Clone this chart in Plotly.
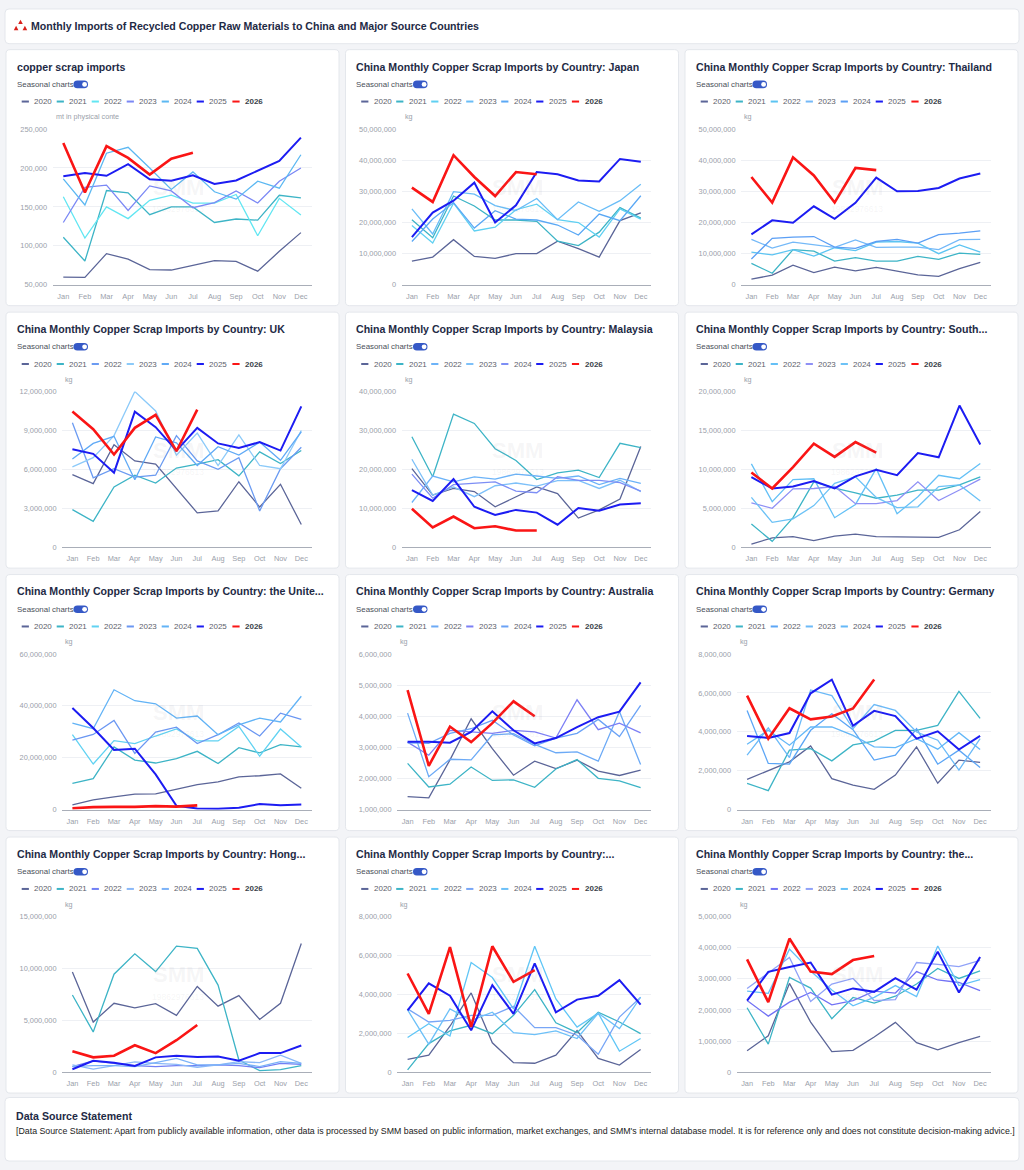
import plotly.graph_objects as go

W, H = 1024, 1170
FONT = "Liberation Sans, Arial, sans-serif"

MONTHS = ["Jan", "Feb", "Mar", "Apr", "May", "Jun", "Jul", "Aug", "Sep", "Oct", "Nov", "Dec"]
YEARS = ["2020", "2021", "2022", "2023", "2024", "2025", "2026"]

HEADER_TITLE = "Monthly Imports of Recycled Copper Raw Materials to China and Major Source Countries"
PANEL_TITLES = [
    "copper scrap imports",
    "China Monthly Copper Scrap Imports by Country: Japan",
    "China Monthly Copper Scrap Imports by Country: Thailand",
    "China Monthly Copper Scrap Imports by Country: UK",
    "China Monthly Copper Scrap Imports by Country: Malaysia",
    "China Monthly Copper Scrap Imports by Country: South...",
    "China Monthly Copper Scrap Imports by Country: the Unite...",
    "China Monthly Copper Scrap Imports by Country: Australia",
    "China Monthly Copper Scrap Imports by Country: Germany",
    "China Monthly Copper Scrap Imports by Country: Hong...",
    "China Monthly Copper Scrap Imports by Country:...",
    "China Monthly Copper Scrap Imports by Country: the...",
]
UNITS = ["mt in physical conte"] + ["kg"] * 11
TOGGLE_LABEL = "Seasonal charts"
SOURCE_TITLE = "Data Source Statement"
SOURCE_TEXT = ("[Data Source Statement: Apart from publicly available information, other data is processed by SMM "
               "based on public information, market exchanges, and SMM's internal database model. It is for "
               "reference only and does not constitute decision-making advice.]")
WATERMARK = "SMM"
WATERMARK_ID = "19862976613"

# ---------------- data (rows: 2020 .. 2026) ----------------
total = [
    [60000, 59500, 90000, 83000, 69500, 69000, 75000, 81000, 80000, 67500, 93000, 117000],
    [111000, 80500, 171000, 168000, 140000, 150000, 150000, 130000, 134500, 133000, 165000, 161500],
    [163000, 110000, 150000, 135000, 158500, 165000, 155000, 155000, 166000, 113000, 161000, 139500],
    [130000, 175000, 178000, 145500, 177000, 170500, 149000, 155500, 170500, 155000, 183000, 200000],
    [186000, 152500, 219000, 226500, 200000, 172500, 195000, 169500, 160000, 183000, 174000, 217000],
    [189500, 193500, 190000, 205000, 185500, 183500, 190500, 179500, 184000, 197000, 209000, 239000],
    [232000, 168500, 228000, 213000, 191500, 212000, 219500],
]
japan = [
    [7.6e6, 8.9e6, 14.5e6, 9.1e6, 8.5e6, 10.0e6, 10.0e6, 14.0e6, 11.6e6, 8.9e6, 20.6e6, 23.1e6],
    [20.9e6, 15.1e6, 28.5e6, 25.3e6, 20.8e6, 20.8e6, 20.4e6, 14.0e6, 12.6e6, 16.9e6, 24.8e6, 21.4e6],
    [19.0e6, 13.4e6, 26.2e6, 17.3e6, 18.5e6, 24.1e6, 25.9e6, 20.9e6, 20.0e6, 15.3e6, 24.4e6, 21.1e6],
    [24.4e6, 16.3e6, 29.9e6, 29.1e6, 25.4e6, 23.8e6, 27.7e6, 20.9e6, 26.6e6, 23.6e6, 27.0e6, 32.3e6],
    [13.9e6, 21.1e6, 26.4e6, 18.2e6, 23.8e6, 21.1e6, 20.8e6, 19.2e6, 16.0e6, 22.7e6, 20.6e6, 28.6e6],
    [15.3e6, 23.2e6, 27.0e6, 32.8e6, 20.0e6, 25.5e6, 36.2e6, 35.5e6, 33.5e6, 33.2e6, 40.4e6, 39.5e6],
    [31.2e6, 26.6e6, 41.6e6, 34.6e6, 28.5e6, 36.2e6, 35.5e6],
]
thailand = [
    [1.8e6, 3.1e6, 6.3e6, 3.9e6, 5.7e6, 4.5e6, 5.6e6, 4.5e6, 3.2e6, 2.7e6, 5.2e6, 7.2e6],
    [6.9e6, 3.7e6, 11.3e6, 10.8e6, 7.6e6, 8.7e6, 7.6e6, 7.6e6, 9.1e6, 8.2e6, 10.2e6, 9.8e6],
    [10.5e6, 9.6e6, 11.3e6, 9.2e6, 11.9e6, 11.0e6, 13.7e6, 13.9e6, 13.4e6, 10.0e6, 12.8e6, 10.5e6],
    [14.6e6, 11.8e6, 13.7e6, 12.8e6, 12.0e6, 14.4e6, 12.0e6, 12.1e6, 12.1e6, 11.3e6, 14.5e6, 14.6e6],
    [8.3e6, 14.9e6, 15.3e6, 15.5e6, 12.1e6, 11.7e6, 13.9e6, 14.6e6, 13.4e6, 16.1e6, 16.6e6, 17.3e6],
    [16.2e6, 20.7e6, 19.9e6, 25.2e6, 21.2e6, 26.3e6, 34.4e6, 30.0e6, 30.1e6, 31.1e6, 34.1e6, 35.7e6],
    [34.6e6, 26.4e6, 40.9e6, 35.1e6, 26.4e6, 37.5e6, 36.8e6],
]
uk = [
    [5.6e6, 4.9e6, 7.9e6, 6.65e6, 6.4e6, 4.5e6, 2.65e6, 2.8e6, 5.05e6, 3.1e6, 4.85e6, 1.75e6],
    [2.9e6, 2.0e6, 4.65e6, 5.55e6, 4.95e6, 6.1e6, 6.4e6, 6.75e6, 5.5e6, 7.35e6, 6.45e6, 7.45e6],
    [9.6e6, 5.35e6, 6.05e6, 5.4e6, 5.55e6, 8.6e6, 6.65e6, 6.0e6, 6.9e6, 2.8e6, 6.05e6, 7.7e6],
    [6.2e6, 6.9e6, 8.6e6, 12.0e6, 10.5e6, 7.1e6, 8.8e6, 6.3e6, 8.65e6, 6.3e6, 6.05e6, 9.0e6],
    [6.8e6, 8.0e6, 8.55e6, 5.2e6, 8.5e6, 8.05e6, 6.3e6, 7.75e6, 7.1e6, 8.1e6, 6.7e6, 8.9e6],
    [7.55e6, 7.2e6, 5.75e6, 10.45e6, 9.25e6, 7.45e6, 9.2e6, 8.0e6, 7.65e6, 8.1e6, 7.45e6, 10.85e6],
    [10.45e6, 9.1e6, 7.15e6, 9.2e6, 10.2e6, 7.4e6, 10.6e6],
]
malaysia = [
    [20.2e6, 13.4e6, 15.1e6, 14.3e6, 10.4e6, 13.0e6, 15.5e6, 13.8e6, 7.5e6, 9.6e6, 12.4e6, 25.9e6],
    [28.4e6, 18.1e6, 34.2e6, 31.8e6, 25.3e6, 22.3e6, 17.4e6, 19.1e6, 19.8e6, 17.9e6, 26.7e6, 25.6e6],
    [11.5e6, 18.3e6, 16.8e6, 18.1e6, 17.5e6, 18.8e6, 18.3e6, 17.7e6, 18.3e6, 16.1e6, 17.7e6, 16.4e6],
    [22.6e6, 13.4e6, 15.5e6, 13.0e6, 15.8e6, 16.5e6, 15.7e6, 17.1e6, 17.2e6, 15.1e6, 17.2e6, 14.3e6],
    [18.8e6, 12.6e6, 16.1e6, 16.4e6, 16.8e6, 14.4e6, 14.0e6, 18.1e6, 17.2e6, 17.2e6, 16.6e6, 14.4e6],
    [14.7e6, 11.9e6, 17.5e6, 10.4e6, 8.3e6, 9.6e6, 8.9e6, 5.8e6, 10.1e6, 9.4e6, 11.0e6, 11.3e6],
    [9.9e6, 5.1e6, 7.9e6, 4.9e6, 5.4e6, 4.3e6, 4.3e6],
]
south = [
    [0.42e6, 1.2e6, 1.36e6, 0.85e6, 1.44e6, 1.7e6, 1.36e6, 1.36e6, 1.36e6, 1.27e6, 2.25e6, 4.6e6],
    [3.0e6, 0.76e6, 3.8e6, 8.4e6, 7.6e6, 7.0e6, 6.3e6, 6.7e6, 7.35e6, 7.35e6, 8.0e6, 9.05e6],
    [10.7e6, 5.86e6, 8.7e6, 8.8e6, 3.8e6, 5.5e6, 10.1e6, 4.3e6, 6.5e6, 9.25e6, 8.8e6, 10.75e6],
    [5.7e6, 5.0e6, 7.5e6, 7.55e6, 7.8e6, 5.6e6, 5.6e6, 6.0e6, 8.4e6, 6.0e6, 7.35e6, 8.75e6],
    [6.4e6, 3.2e6, 3.65e6, 5.35e6, 8.2e6, 9.05e6, 6.4e6, 5.1e6, 5.2e6, 7.8e6, 8.0e6, 5.95e6],
    [9.0e6, 7.55e6, 7.8e6, 8.5e6, 7.55e6, 9.1e6, 9.95e6, 9.25e6, 12.1e6, 11.55e6, 18.2e6, 13.2e6],
    [9.6e6, 7.55e6, 10.3e6, 13.3e6, 11.6e6, 13.5e6, 12.15e6],
]
usa = [
    [1.9e6, 3.8e6, 5.0e6, 6.0e6, 6.1e6, 8.0e6, 9.7e6, 10.7e6, 12.7e6, 13.1e6, 13.8e6, 8.3e6],
    [10.2e6, 12.0e6, 24.2e6, 19.1e6, 18.0e6, 19.7e6, 22.5e6, 17.8e6, 23.9e6, 21.9e6, 25.1e6, 24.2e6],
    [28.9e6, 17.6e6, 26.6e6, 25.5e6, 28.4e6, 31.1e6, 26.5e6, 26.5e6, 32.1e6, 20.6e6, 31.1e6, 24.2e6],
    [26.8e6, 29.0e6, 34.4e6, 21.7e6, 29.9e6, 31.8e6, 25.5e6, 28.9e6, 33.4e6, 28.4e6, 37.2e6, 34.8e6],
    [33.4e6, 31.2e6, 46.2e6, 42.0e6, 40.8e6, 35.3e6, 36.1e6, 28.9e6, 32.7e6, 35.3e6, 33.8e6, 43.7e6],
    [39.2e6, 31.5e6, 23.0e6, 23.5e6, 13.6e6, 1.5e6, 0.5e6, 0.4e6, 0.8e6, 2.2e6, 1.7e6, 2.0e6],
    [0.6e6, 1.0e6, 1.1e6, 1.1e6, 1.4e6, 1.2e6, 1.7e6],
]
australia = [
    [1.42e6, 1.38e6, 2.6e6, 3.92e6, 2.96e6, 2.11e6, 2.56e6, 2.32e6, 2.59e6, 2.24e6, 2.1e6, 2.27e6],
    [2.49e6, 1.73e6, 1.82e6, 2.37e6, 1.94e6, 1.96e6, 1.72e6, 2.31e6, 2.61e6, 2.01e6, 1.93e6, 1.71e6],
    [4.1e6, 2.06e6, 2.62e6, 2.6e6, 3.4e6, 3.44e6, 3.1e6, 2.83e6, 2.86e6, 2.56e6, 4.15e6, 2.45e6],
    [3.17e6, 2.75e6, 3.55e6, 3.5e6, 3.45e6, 3.55e6, 3.5e6, 3.3e6, 4.53e6, 3.57e6, 3.78e6, 3.47e6],
    [3.15e6, 3.13e6, 3.45e6, 3.6e6, 3.87e6, 3.4e6, 3.05e6, 3.3e6, 3.45e6, 3.9e6, 3.35e6, 4.35e6],
    [3.18e6, 3.18e6, 3.15e6, 3.5e6, 4.16e6, 3.55e6, 3.13e6, 3.3e6, 3.65e6, 3.97e6, 4.15e6, 5.09e6],
    [4.84e6, 2.41e6, 3.67e6, 3.17e6, 3.78e6, 4.48e6, 4.0e6],
]
germany = [
    [1.56e6, 2.0e6, 2.46e6, 3.28e6, 1.6e6, 1.27e6, 1.05e6, 1.78e6, 3.23e6, 1.36e6, 2.55e6, 2.43e6],
    [1.36e6, 0.98e6, 3.06e6, 3.14e6, 2.51e6, 3.33e6, 3.52e6, 4.08e6, 4.08e6, 4.33e6, 6.08e6, 4.69e6],
    [5.1e6, 2.38e6, 2.34e6, 4.08e6, 4.93e6, 4.11e6, 2.55e6, 2.8e6, 4.16e6, 2.34e6, 3.06e6, 2.17e6],
    [2.8e6, 4.21e6, 2.68e6, 6.15e6, 5.86e6, 4.16e6, 5.4e6, 5.1e6, 3.99e6, 3.57e6, 2.04e6, 3.65e6],
    [3.36e6, 4.08e6, 3.31e6, 4.25e6, 4.25e6, 3.82e6, 3.23e6, 3.19e6, 3.65e6, 3.11e6, 3.96e6, 3.09e6],
    [3.79e6, 3.69e6, 3.94e6, 5.98e6, 6.68e6, 4.31e6, 5.08e6, 4.81e6, 3.65e6, 4.03e6, 3.09e6, 3.79e6],
    [5.86e6, 3.65e6, 5.21e6, 4.64e6, 4.79e6, 5.2e6, 6.69e6],
]
hongkong = [
    [9.66e6, 4.83e6, 6.64e6, 6.2e6, 6.61e6, 5.47e6, 8.26e6, 6.36e6, 7.37e6, 5.08e6, 6.64e6, 12.4e6],
    [7.44e6, 3.88e6, 9.44e6, 11.4e6, 9.69e6, 12.14e6, 11.92e6, 8.39e6, 1.18e6, 0.16e6, 0.25e6, 0.64e6],
    [0.54e6, 1.1e6, 0.86e6, 0.64e6, 0.54e6, 0.64e6, 0.64e6, 0.7e6, 0.64e6, 0.44e6, 0.86e6, 0.76e6],
    [0.7e6, 0.29e6, 0.64e6, 0.99e6, 0.86e6, 0.76e6, 0.48e6, 0.7e6, 1.02e6, 0.92e6, 1.65e6, 0.86e6],
    [0.54e6, 0.64e6, 0.64e6, 0.54e6, 0.92e6, 1.33e6, 0.7e6, 0.7e6, 0.86e6, 0.54e6, 1.02e6, 0.86e6],
    [0.29e6, 1.1e6, 0.92e6, 0.6e6, 1.43e6, 1.59e6, 1.46e6, 1.52e6, 1.1e6, 1.84e6, 1.84e6, 2.57e6],
    [2.03e6, 1.43e6, 1.59e6, 2.6e6, 1.84e6, 3.08e6, 4.54e6],
]
country11 = [
    [0.66e6, 0.88e6, 2.36e6, 4.07e6, 1.51e6, 0.49e6, 0.46e6, 0.88e6, 2.14e6, 0.71e6, 0.37e6, 1.17e6],
    [0.12e6, 1.47e6, 2.12e6, 2.41e6, 1.98e6, 2.92e6, 4.24e6, 2.54e6, 2.03e6, 3.08e6, 2.58e6, 1.98e6],
    [1.78e6, 2.49e6, 1.86e6, 5.63e6, 4.86e6, 3.25e6, 6.47e6, 3.76e6, 2.32e6, 3.03e6, 1.08e6, 1.73e6],
    [3.25e6, 2.58e6, 2.66e6, 2.92e6, 2.92e6, 3.39e6, 2.29e6, 2.29e6, 1.9e6, 0.92e6, 2.83e6, 3.85e6],
    [3.2e6, 1.44e6, 3.25e6, 2.66e6, 3.08e6, 2.03e6, 1.93e6, 2.12e6, 1.73e6, 3.03e6, 2.24e6, 3.85e6],
    [3.17e6, 4.56e6, 3.93e6, 2.15e6, 4.47e6, 3.0e6, 5.59e6, 3.08e6, 3.73e6, 3.93e6, 4.73e6, 3.47e6],
    [5.07e6, 3.0e6, 6.42e6, 2.32e6, 6.47e6, 4.64e6, 5.24e6],
]
country12 = [
    [0.69e6, 1.17e6, 2.85e6, 1.61e6, 0.66e6, 0.7e6, 1.13e6, 1.6e6, 0.95e6, 0.72e6, 0.95e6, 1.15e6],
    [2.07e6, 0.9e6, 3.04e6, 2.7e6, 1.72e6, 2.4e6, 2.22e6, 2.44e6, 2.83e6, 3.33e6, 3.01e6, 3.25e6],
    [2.3e6, 1.8e6, 2.25e6, 2.56e6, 2.16e6, 2.3e6, 2.6e6, 2.54e6, 3.23e6, 2.96e6, 2.88e6, 2.62e6],
    [2.69e6, 3.2e6, 3.68e6, 2.27e6, 2.83e6, 3.01e6, 2.3e6, 2.33e6, 3.52e6, 3.46e6, 3.39e6, 3.59e6],
    [2.6e6, 2.53e6, 3.95e6, 3.25e6, 2.64e6, 2.13e6, 2.4e6, 2.78e6, 2.43e6, 4.05e6, 2.78e6, 2.97e6],
    [2.3e6, 3.22e6, 3.38e6, 3.52e6, 2.49e6, 2.69e6, 2.58e6, 3.02e6, 2.65e6, 3.87e6, 2.56e6, 3.7e6],
    [3.62e6, 2.25e6, 4.29e6, 3.23e6, 3.15e6, 3.6e6, 3.73e6],
]
PANEL_DATA = [total, japan, thailand, uk, malaysia, south, usa, australia, germany, hongkong, country11, country12]

# axis ranges (min, max, step)
Y_AXES = [(50000, 250000, 50000), (0, 5e7, 1e7), (0, 5e7, 1e7), (0, 1.2e7, 3e6),
          (0, 4e7, 1e7), (0, 2e7, 5e6), (0, 6e7, 2e7), (1e6, 6e6, 1e6),
          (0, 8e6, 2e6), (0, 1.5e7, 5e6), (0, 8e6, 2e6), (0, 5e6, 1e6)]

# ---------------- styling ----------------
C2020, C2021, C2025, C2026 = "#5b6598", "#3db4c6", "#1c1cf2", "#fa1515"
MID_COLORS = [
    ("#62e6f2", "#7b88f5", "#5cb8f2"), ("#5fd0f2", "#69bdf7", "#5aa8f5"), ("#5cc4f2", "#74b9f8", "#5b9ff5"),
    ("#6b9bf2", "#8ccaf9", "#60aaf6"), ("#6cb3f8", "#7dc0f9", "#7d8ef5"), ("#64c0f6", "#8f90f5", "#6cc2f6"),
    ("#60d2f2", "#6b97f2", "#62b3f6"), ("#6caaf6", "#7c7ff5", "#6aa2f6"), ("#5ca6f6", "#6cbaf8", "#64b8f8"),
    ("#717ff5", "#8ab8f8", "#7bb2f8"), ("#60c6f6", "#78a6f6", "#6cc0f8"), ("#7272f5", "#90a2f8", "#64c2f8"),
]
WIDTHS = [1.3, 1.3, 1.3, 1.3, 1.3, 2.0, 2.6]
CARD_LEFT = [6, 345.5, 685]
CARD_TOP = [46, 310.5, 575, 839.5]
CARD_W, CARD_H = 333, 258
PLOT_L = [46.5, 56, 56, 56, 56, 56, 56, 51.5, 51.5, 56, 51.5, 51.5]
PLOT_R, PLOT_T, PLOT_B = 305.7, 80, 237
LEG_TEXT_X = [27.3, 62.3, 97.3, 132.3, 167.3, 202.3, 238.0]
TITLE_C = "#1e2a45"
TICK_C = "#9aa0aa"
S_TITLE, S_TOGGLE, S_LEG, S_TICK, S_UNIT, S_SRC = 10.6, 7.9, 8.0, 7.4, 7.2, 8.8


def fx(x):
    return x / W


def fy(y):
    return 1 - y / H


def rrect(x0, y0, x1, y1, r, fill, line="rgba(0,0,0,0)", lw=0):
    def P(x, y):
        return f"{fx(x):.6f},{fy(y):.6f}"
    path = (f"M{P(x0 + r, y0)} L{P(x1 - r, y0)} Q{P(x1, y0)} {P(x1, y0 + r)} "
            f"L{P(x1, y1 - r)} Q{P(x1, y1)} {P(x1 - r, y1)} L{P(x0 + r, y1)} "
            f"Q{P(x0, y1)} {P(x0, y1 - r)} L{P(x0, y0 + r)} Q{P(x0, y0)} {P(x0 + r, y0)} Z")
    return dict(type="path", path=path, xref="paper", yref="paper", fillcolor=fill,
                line=dict(color=line, width=lw), layer="below")


def text(x, y, s, size, color, anchor="left", family=FONT):
    return dict(x=fx(x), y=fy(y), xref="paper", yref="paper", text=s, showarrow=False,
                xanchor=anchor, yanchor="middle", font=dict(size=size, color=color, family=family))


fig = go.Figure()
shapes, annotations = [], []
layout_axes = {}

# header card
shapes.append(rrect(5, 5, 1019, 40, 4, "white", "#e4e7ec", 1))
for (a, b, c, d) in [(18.2, 15.8, 22.8, 20.2), (13.8, 22.0, 18.4, 26.4), (22.6, 22.0, 27.2, 26.4)]:
    shapes.append(dict(type="path", xref="paper", yref="paper", fillcolor="#d9201b", line=dict(width=0),
                       path=f"M{fx((a + c) / 2)},{fy(b)} L{fx(c)},{fy(d)} L{fx(a)},{fy(d)} Z"))
annotations.append(text(29, 22.5, f"<b>{HEADER_TITLE}</b>", S_TITLE, TITLE_C))

# bottom card
shapes.append(rrect(5, 1102, 1019, 1166, 4, "white", "#e4e7ec", 1))
annotations.append(text(14, 1121, f"<b>{SOURCE_TITLE}</b>", S_TITLE, TITLE_C))
annotations.append(text(14, 1135.5, SOURCE_TEXT, S_SRC, "#222222"))

for i, series in enumerate(PANEL_DATA):
    r, c = divmod(i, 3)
    cx, cy = CARD_LEFT[c], CARD_TOP[r]
    shapes.append(rrect(cx, cy, cx + CARD_W, cy + CARD_H, 4, "white", "#e4e7ec", 1))

    n = "" if i == 0 else str(i + 1)
    x0, x1 = cx + PLOT_L[i], cx + PLOT_R
    y0, y1 = cy + PLOT_T, cy + PLOT_B
    lo, hi, step = Y_AXES[i]
    layout_axes["xaxis" + n] = dict(
        domain=[fx(x0), fx(x1)], anchor="y" + n, type="category", range=[-0.5, 11.5],
        categoryorder="array", categoryarray=MONTHS, showgrid=False, zeroline=False,
        showline=True, linecolor="#a9aeb8", linewidth=1, ticks="outside", ticklen=4,
        tickcolor="rgba(0,0,0,0)", tickfont=dict(size=S_TICK, color=TICK_C, family=FONT), fixedrange=True)
    layout_axes["yaxis" + n] = dict(
        domain=[fy(y1), fy(y0)], anchor="x" + n, range=[lo, hi], tick0=lo, dtick=step,
        tickformat=",.0f", showgrid=True, gridcolor="#eef0f4", gridwidth=1, zeroline=False,
        showline=False, ticks="outside", ticklen=3, tickcolor="rgba(0,0,0,0)",
        tickfont=dict(size=S_TICK, color=TICK_C, family=FONT), fixedrange=True)

    colors = [C2020, C2021, *MID_COLORS[i], C2025, C2026]
    for k, vals in enumerate(series):
        fig.add_trace(go.Scatter(
            x=MONTHS[:len(vals)], y=vals, mode="lines", name=YEARS[k], showlegend=False,
            line=dict(color=colors[k], width=WIDTHS[k]), xaxis="x" + n, yaxis="y" + n,
            hoverinfo="skip"))

    # panel texts
    annotations.append(text(cx + 8.5, cy + 17, f"<b>{PANEL_TITLES[i]}</b>", S_TITLE, TITLE_C))
    annotations.append(text(cx + 8.5, cy + 35, TOGGLE_LABEL, S_TOGGLE, "#4a4f5a"))
    shapes.append(rrect(cx + 67.5, cy + 31.2, cx + 82, cy + 38.8, 3.8, "#3558c6"))
    shapes.append(dict(type="circle", xref="paper", yref="paper", fillcolor="white", line=dict(width=0),
                       x0=fx(cx + 76.2), x1=fx(cx + 81.0), y0=fy(cy + 37.4), y1=fy(cy + 32.6)))
    for k, yr in enumerate(YEARS):
        tx = cx + LEG_TEXT_X[k]
        ly = cy + 52.3
        shapes.append(dict(type="line", xref="paper", yref="paper", x0=fx(tx - 11.6), x1=fx(tx - 4.4),
                           y0=fy(ly), y1=fy(ly), line=dict(color=colors[k], width=2)))
        label = f"<b>{yr}</b>" if yr == "2026" else yr
        annotations.append(text(tx - 1, ly, label, S_LEG, "#3a3f4a" if yr == "2026" else "#5c616b"))
    annotations.append(text(x0 + 1, cy + 67.7, UNITS[i], S_UNIT, "#9aa0aa"))
    # faint watermark
    annotations.append(text(cx + 172, cy + 139, f"<b>{WATERMARK}</b>", 22, "rgba(160,160,170,0.11)", "center"))
    annotations.append(text(cx + 172, cy + 161, WATERMARK_ID, 8.5, "rgba(160,160,170,0.11)", "center"))

fig.update_layout(
    width=W, height=H, margin=dict(l=0, r=0, t=0, b=0),
    paper_bgcolor="#f3f4f7", plot_bgcolor="rgba(0,0,0,0)",
    font=dict(family=FONT), showlegend=False, hovermode=False,
    shapes=shapes, annotations=annotations, **layout_axes)

fig.write_html("out.html", config={"displayModeBar": False, "staticPlot": True},
               post_script="document.body.style.margin='0px';document.body.style.overflow='hidden';")
